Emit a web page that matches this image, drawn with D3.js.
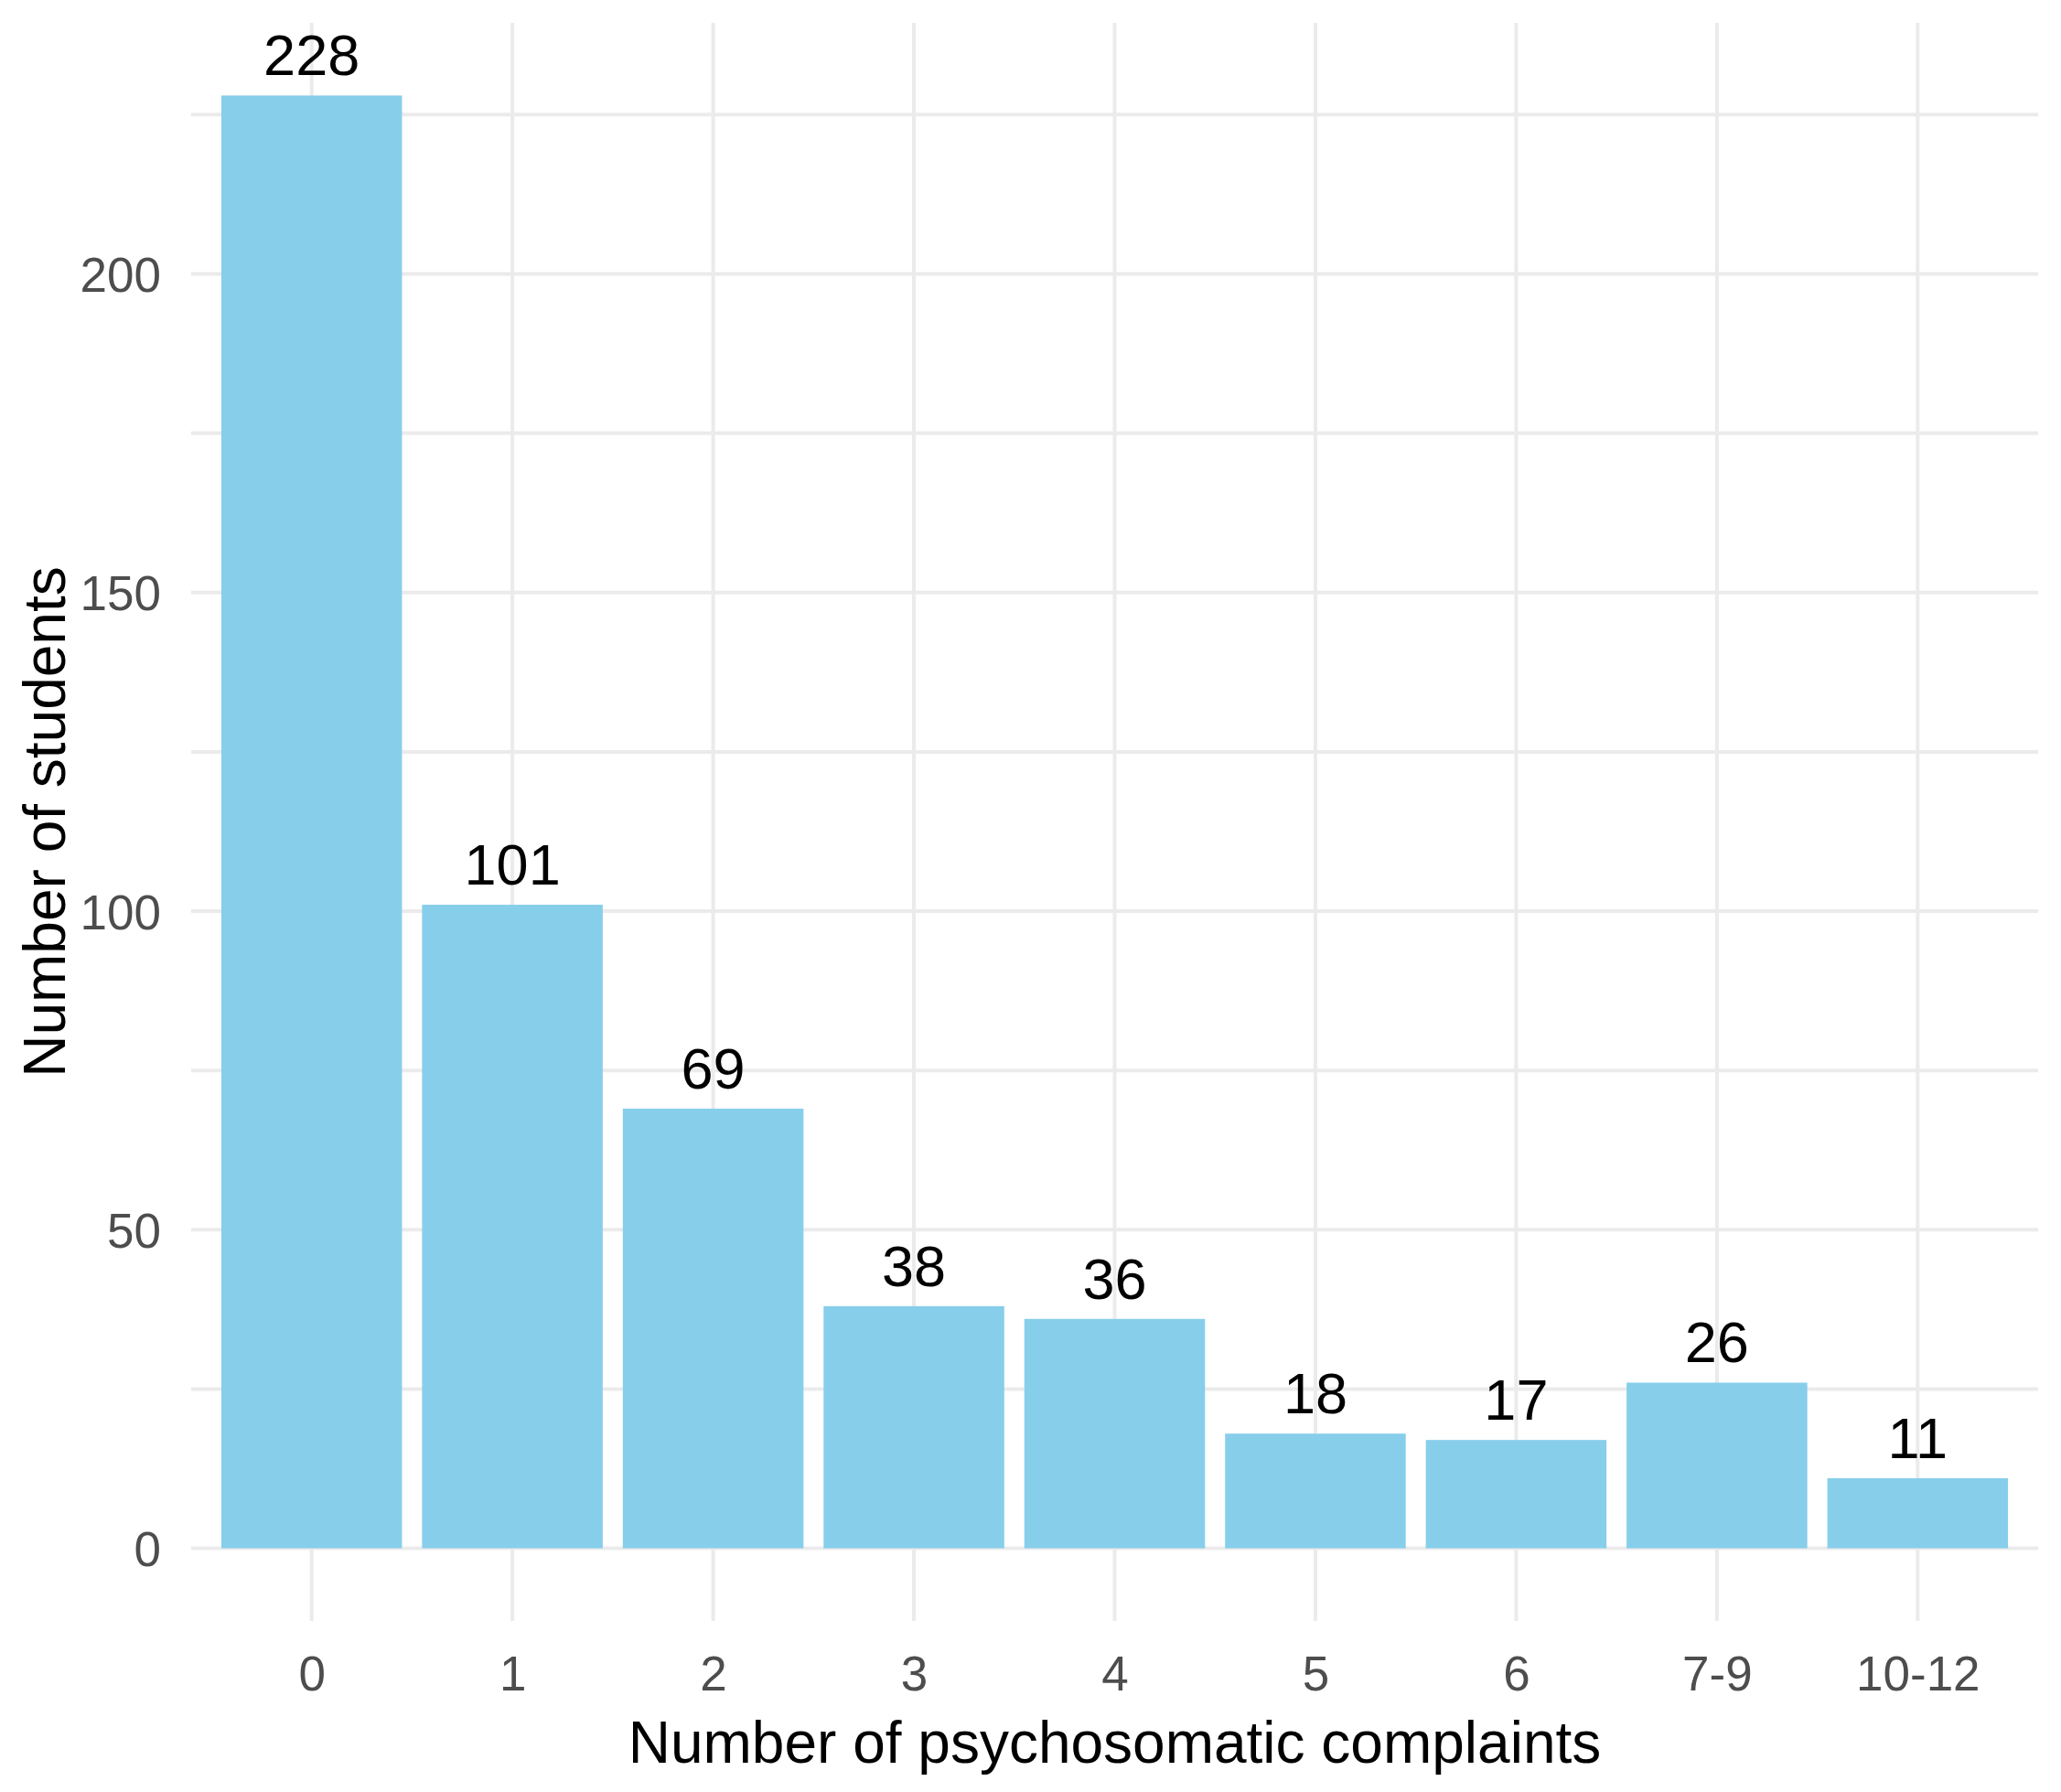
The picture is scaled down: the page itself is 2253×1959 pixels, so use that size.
<!DOCTYPE html>
<html>
<head>
<meta charset="utf-8">
<script src="https://cdn.jsdelivr.net/npm/d3@7"></script>
<style>
  html, body { margin: 0; padding: 0; background: #ffffff; }
  svg { display: block; font-family: "Liberation Sans", Arial, sans-serif; }
</style>
</head>
<body>
<svg id="chart" width="2253" height="1959"></svg>
<script>
const categories = ["0", "1", "2", "3", "4", "5", "6", "7-9", "10-12"];
const counts = [228, 101, 69, 38, 36, 18, 17, 26, 11];
const yMajorTicks = [0, 50, 100, 150, 200];
const yMinorTicks = [25, 75, 125, 175, 225];
const xTitle = "Number of psychosomatic complaints";
const yTitle = "Number of students";

const W = 2253, H = 1959;
const panel = { left: 209, right: 2228, top: 25, bottom: 1772 };

const svg = d3.select("#chart");

const x = d3.scalePoint()
  .domain(categories)
  .range([panel.left, panel.right])
  .padding(0.6);
const barW = x.step() * 0.9;

const yMax = d3.max(counts);
const y = d3.scaleLinear()
  .domain([-yMax * 0.05, yMax * 1.05])
  .range([panel.bottom, panel.top]);

const grid = "#EBEBEB";

// minor horizontal gridlines
svg.append("g").selectAll("line").data(yMinorTicks).join("line")
  .attr("x1", panel.left).attr("x2", panel.right)
  .attr("y1", d => y(d)).attr("y2", d => y(d))
  .attr("stroke", grid).attr("stroke-width", 4);

// major horizontal gridlines
svg.append("g").selectAll("line").data(yMajorTicks).join("line")
  .attr("x1", panel.left).attr("x2", panel.right)
  .attr("y1", d => y(d)).attr("y2", d => y(d))
  .attr("stroke", grid).attr("stroke-width", 4);

// vertical gridlines
svg.append("g").selectAll("line").data(categories).join("line")
  .attr("x1", d => x(d)).attr("x2", d => x(d))
  .attr("y1", panel.top).attr("y2", panel.bottom)
  .attr("stroke", grid).attr("stroke-width", 4);

// bars
svg.append("g").selectAll("rect").data(categories).join("rect")
  .attr("x", d => x(d) - barW / 2)
  .attr("width", barW)
  .attr("y", (d, i) => y(counts[i]))
  .attr("height", (d, i) => y(0) - y(counts[i]))
  .attr("fill", "#87CEEB");

// value labels
svg.append("g").selectAll("text").data(categories).join("text")
  .attr("x", d => x(d))
  .attr("y", (d, i) => y(counts[i]) - 22)
  .attr("text-anchor", "middle")
  .attr("font-size", 63)
  .attr("fill", "#000000")
  .text((d, i) => counts[i]);

// y axis tick labels
const yAxis = d3.axisLeft(y).tickValues(yMajorTicks).tickSize(0).tickPadding(0);
const gy = svg.append("g").attr("transform", `translate(${panel.left - 33},0)`).call(yAxis);
gy.select(".domain").remove();
gy.selectAll("text")
  .attr("font-size", 53)
  .attr("font-family", "Liberation Sans, Arial, sans-serif")
  .attr("fill", "#4D4D4D")
  .attr("dy", "0.36em");

// x axis tick labels
const xAxis = d3.axisBottom(x).tickSize(0).tickPadding(0);
const gx = svg.append("g").attr("transform", `translate(0,1848)`).call(xAxis);
gx.select(".domain").remove();
gx.selectAll("text")
  .attr("font-size", 53)
  .attr("font-family", "Liberation Sans, Arial, sans-serif")
  .attr("fill", "#4D4D4D")
  .attr("dy", 0)
  .attr("y", 0);

// axis titles
svg.append("text")
  .attr("x", (panel.left + panel.right) / 2)
  .attr("y", 1927)
  .attr("text-anchor", "middle")
  .attr("font-size", 64)
  .attr("fill", "#000000")
  .text(xTitle);

svg.append("text")
  .attr("transform", `translate(71,${(panel.top + panel.bottom) / 2}) rotate(-90)`)
  .attr("text-anchor", "middle")
  .attr("font-size", 64)
  .attr("fill", "#000000")
  .text(yTitle);
</script>
</body>
</html>
